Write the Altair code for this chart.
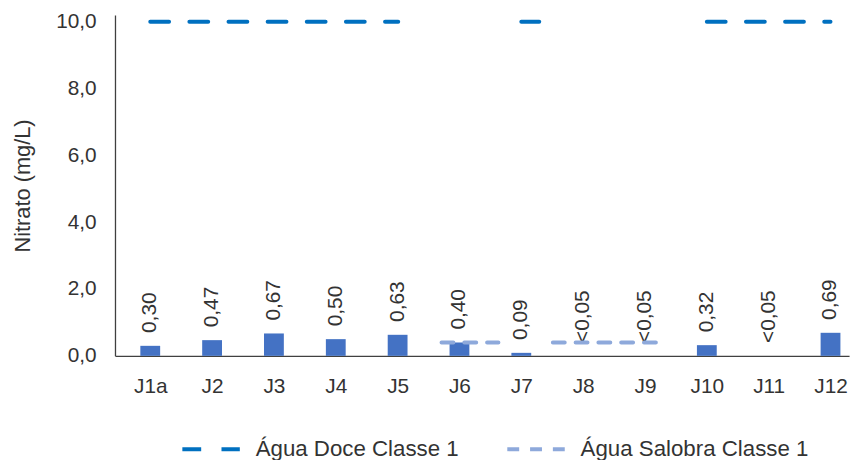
import json
import altair as alt
import pandas as pd

# ---- data ----
pontos = ["J1a", "J2", "J3", "J4", "J5", "J6", "J7", "J8", "J9", "J10", "J11", "J12"]
nitrato = [0.30, 0.47, 0.67, 0.50, 0.63, 0.40, 0.09, 0.0, 0.0, 0.32, 0.0, 0.69]
rotulos = ["0,30", "0,47", "0,67", "0,50", "0,63", "0,40", "0,09", "<0,05", "<0,05", "0,32", "<0,05", "0,69"]

# reference-limit segments (in category index units)
serie_trecho = ["Água Doce Classe 1", "Água Doce Classe 1", "Água Doce Classe 1",
                "Água Salobra Classe 1", "Água Salobra Classe 1"]
inicio = [0.0, 6.0, 9.0, 4.71, 6.51]
fim = [4.01, 6.29, 11.0, 5.63, 8.19]
nivel = [10.0, 10.0, 10.0, 0.4, 0.4]

series = ["Água Doce Classe 1", "Água Salobra Classe 1"]
cores = ["#0070C0", "#8EA9DB"]
tracos = [[19, 20.5], [12, 11]]

FONT = "Liberation Sans"
TXT = "#333333"

barras = pd.DataFrame({"idx": list(range(len(pontos))), "ponto": pontos,
                       "valor": nitrato, "rotulo": rotulos})
trechos = pd.DataFrame({"serie": serie_trecho, "x0": inicio, "x1": fim, "y": nivel})

label_expr = json.dumps(pontos) + "[round(datum.value)]"

xscale = alt.Scale(domain=[-0.49, 11.22], nice=False, zero=False)
yscale = alt.Scale(domain=[0, 10.2], nice=False)

xaxis = alt.Axis(values=list(range(len(pontos))), labelExpr=label_expr, title=None,
                 grid=False, ticks=False, labelPadding=20, labelFontSize=21,
                 labelFont=FONT, labelColor=TXT, domainColor="#404040", domainWidth=1.3)
yaxis = alt.Axis(values=[0, 2, 4, 6, 8, 10],
                 labelExpr="replace(format(datum.value, '.1f'), '.', ',')",
                 title="Nitrato (mg/L)", grid=False, ticks=False, labelPadding=19,
                 labelFontSize=21, labelFont=FONT, labelColor=TXT,
                 titleFont=FONT, titleFontSize=22, titleFontWeight="normal",
                 titleColor=TXT, titlePadding=21, domainColor="#404040", domainWidth=1.3)

legenda = alt.Legend(title=None, orient="none", legendX=66, legendY=407,
                     direction="horizontal", symbolType="stroke",
                     symbolSize=3364, symbolStrokeWidth=4,
                     labelFontSize=22.5, labelFont=FONT, labelColor=TXT, labelLimit=400,
                     labelOffset=14, columnPadding=40, padding=0)

base_b = alt.Chart(barras)

bars = base_b.mark_bar(size=20, color="#4472C4").encode(
    x=alt.X("idx:Q", scale=xscale, axis=xaxis),
    y=alt.Y("valor:Q", scale=yscale, axis=yaxis),
)

text = base_b.mark_text(angle=270, align="left", baseline="middle", dx=13,
                        fontSize=21, font=FONT, color=TXT).encode(
    x=alt.X("idx:Q", scale=xscale),
    y=alt.Y("valor:Q", scale=yscale),
    text="rotulo:N",
)

rules = alt.Chart(trechos).mark_rule(strokeWidth=4, strokeCap="round").encode(
    x=alt.X("x0:Q", scale=xscale),
    x2="x1:Q",
    y=alt.Y("y:Q", scale=yscale),
    color=alt.Color("serie:N", scale=alt.Scale(domain=series, range=cores), legend=legenda),
    strokeDash=alt.StrokeDash("serie:N", scale=alt.Scale(domain=series, range=tracos),
                              legend=legenda),
)

chart = alt.layer(bars, text, rules).properties(
    width=741, height=344,
    padding={"left": 108, "top": 5, "right": 8, "bottom": 103},
    autosize=alt.AutoSizeParams(type="none"),
    background="white",
).configure_view(stroke=None)

chart.save("out.html", embed_options={"renderer": "svg", "actions": False})
